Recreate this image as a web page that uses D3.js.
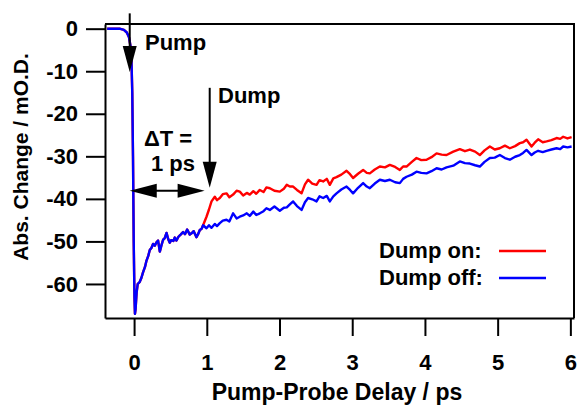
<!DOCTYPE html>
<html>
<head>
<meta charset="utf-8">
<script src="https://cdn.jsdelivr.net/npm/d3@7"></script>
<style>
    body{ margin:0; background:#fff; }
    svg text{ font-family:"Liberation Sans", Arial, Helvetica, sans-serif; font-weight:bold; }
</style>
</head>
<body>
<svg id="chart" width="579" height="406"></svg>
<script>
// shared part of both traces (before the dump pulse)
var timeShared = [-0.37,-0.2,-0.14,-0.1,-0.07,-0.05,-0.035,-0.025,-0.015,-0.005,0.005,0.012,0.02,0.035,0.05,0.078,0.1,0.124,0.15,0.171,0.195,0.216,0.24,0.261,0.285,0.308,0.33,0.354,0.375,0.399,0.42,0.446,0.47,0.491,0.51,0.54,0.56,0.583,0.61,0.64,0.674,0.7,0.73,0.766,0.79,0.82,0.858,0.88,0.904,0.93,0.949];
var valueShared = [0,0,-0.3,-0.9,-2,-4,-8,-15,-30,-50,-63,-67,-66,-62,-60,-59.5,-58.6,-57.2,-56,-54.5,-53.4,-52,-51.5,-50.6,-51,-50.2,-49.8,-52.4,-51,-49.6,-49.3,-48,-49.5,-50.3,-49.7,-49.9,-49.1,-49.8,-48.9,-48.4,-47.8,-48.3,-47.2,-48.4,-48.1,-47.6,-49,-48.3,-47.3,-47,-46.2];

// after the dump pulse
var timeTail = [0.996,1.03,1.065,1.11,1.14,1.179,1.22,1.271,1.31,1.362,1.41,1.454,1.5,1.55,1.591,1.64,1.68,1.729,1.78,1.82,1.867,1.93,2.004,2.06,2.1,2.142,2.187,2.24,2.303,2.35,2.393,2.45,2.509,2.55,2.6,2.65,2.692,2.74,2.784,2.85,2.922,2.97,3.012,3.08,3.15,3.2,3.242,3.31,3.38,3.45,3.517,3.59,3.655,3.7,3.747,3.82,3.884,3.95,4.022,4.09,4.16,4.23,4.297,4.39,4.48,4.55,4.618,4.69,4.755,4.82,4.893,4.96,5.03,5.1,5.168,5.24,5.305,5.35,5.397,5.466,5.51,5.557,5.62,5.673,5.74,5.81,5.86,5.901,5.96,6.017];
var dumpOn = [-44.2,-42.5,-40.6,-39.5,-40.3,-39.8,-38.9,-38.7,-39.6,-39,-38.1,-38.3,-39.2,-38.6,-39,-38.2,-38.8,-37.9,-38.4,-37.3,-37.5,-38.1,-38.3,-37.6,-36.7,-37.1,-37.1,-37.9,-38.7,-36.6,-35.5,-36.4,-36.7,-35.6,-35.9,-35.3,-36.7,-35.2,-34.9,-34.3,-33.4,-34.2,-35.1,-34.1,-33.2,-33.9,-34,-33.1,-32.4,-32.6,-32,-32.5,-33.2,-32.4,-32.4,-31.3,-30.4,-30.9,-30.8,-30.2,-29.3,-29.6,-29.7,-28.9,-28.3,-28.8,-28.4,-28.9,-29.7,-28.6,-27.7,-28.4,-28.1,-27.5,-28.1,-27.6,-26.9,-26.7,-26.1,-27.7,-26.8,-26,-26.7,-26.5,-26.2,-25.7,-25.9,-25.4,-25.8,-25.5];
var dumpOff = [-46.9,-46.2,-46.8,-45.9,-46.4,-45.7,-45.1,-44.9,-45.3,-43.4,-44.6,-44.2,-43.9,-43.4,-44,-43,-43.8,-43.4,-42.9,-42.2,-42.6,-41.8,-42.8,-42.1,-42,-41.3,-40.6,-41.7,-42.6,-40.8,-39.8,-40.1,-40.6,-39.4,-39.8,-39.3,-40.6,-39.4,-38.7,-37.8,-37.1,-37.9,-38.7,-37.4,-36.3,-37.1,-37.5,-36.4,-35.5,-35.8,-35.5,-36.1,-36.3,-35.3,-34.8,-34.3,-33.6,-33.9,-34,-33.5,-32.8,-33.1,-32.6,-32.2,-31.2,-31.6,-31.7,-32.1,-32.4,-31.3,-30.4,-30.3,-29.7,-30.4,-30.8,-30.1,-29.7,-29.2,-28.5,-29.7,-29.1,-28.7,-29,-28.7,-28.4,-28.1,-28.3,-27.7,-27.9,-27.7];

var xTicks = [0,1,2,3,4,5,6];
var yTicks = [0,-10,-20,-30,-40,-50,-60];
var seriesNames = ["Dump on:", "Dump off:"];
var seriesColors = ["#ff0000", "#0000ff"];

var plotL = 105, plotR = 574, plotT = 24, plotB = 318;

var svg = d3.select("#chart");
var x = d3.scaleLinear().domain([-0.4, 6.05]).range([plotL, plotR]);
var y = d3.scaleLinear().domain([1.1, -68]).range([plotT, plotB]);

function pts(ts, vs){
    return ts.map(function(t, i){ return [t, vs[i]]; });
}
var shared = pts(timeShared, valueShared);
var traces = [shared.concat(pts(timeTail, dumpOn)), shared.concat(pts(timeTail, dumpOff))];

var line = d3.line().x(function(d){ return x(d[0]); }).y(function(d){ return y(d[1]); });

// axes
var xAxis = d3.axisBottom(x).tickValues(xTicks).tickFormat(d3.format("d")).tickSize(18).tickSizeOuter(0).tickPadding(18);
var yAxis = d3.axisLeft(y).tickValues(yTicks).tickFormat(function(d){ return d === 0 ? "0" : "-" + Math.abs(d); }).tickSize(19).tickSizeOuter(0).tickPadding(8);

var gx = svg.append("g").attr("transform", "translate(0," + plotB + ")").call(xAxis);
var gy = svg.append("g").attr("transform", "translate(" + plotL + ",0)").call(yAxis);
[gx, gy].forEach(function(g){
    g.selectAll("path,line").style("stroke", "#000").style("stroke-width", 2);
    g.selectAll("text").style("font-size", "22px").style("fill", "#000");
});

// frame top and right
svg.append("path")
    .attr("d", "M" + plotL + "," + plotT + "H" + plotR + "V" + plotB)
    .style("fill", "none").style("stroke", "#000").style("stroke-width", 2);

// traces (red under blue)
svg.selectAll("path.trace").data(traces).enter().append("path")
    .attr("class", "trace")
    .attr("d", line)
    .style("fill", "none")
    .style("stroke", function(d, i){ return seriesColors[i]; })
    .style("stroke-width", 2.4)
    .style("stroke-linejoin", "round");

// arrows
function arrowHead(tipX, tipY, dx, dy, len, half){
    // dx,dy unit direction of the arrow
    var bx = tipX - dx * len, by = tipY - dy * len;
    var px = -dy * half, py = dx * half;
    svg.append("path")
        .attr("d", "M" + tipX + "," + tipY + "L" + (bx + px) + "," + (by + py) + "L" + (bx - px) + "," + (by - py) + "Z")
        .style("fill", "#000");
}
function vArrow(t, v0, v1){
    var xx = x(t), y0 = y(v0), y1 = y(v1);
    svg.append("line").attr("x1", xx).attr("x2", xx).attr("y1", y0).attr("y2", y1 - 20)
        .style("stroke", "#000").style("stroke-width", 2);
    arrowHead(xx, y1, 0, 1, 26, 7);
}
vArrow(-0.06, 3.6, -10.2);
vArrow(1.04, -13.9, -37.4);

var ay = y(-38.1), ax0 = x(-0.06), ax1 = x(0.97);
svg.append("line").attr("x1", ax0 + 20).attr("x2", ax1 - 20).attr("y1", ay).attr("y2", ay)
    .style("stroke", "#000").style("stroke-width", 2);
arrowHead(ax0, ay, -1, 0, 27, 7);
arrowHead(ax1, ay, 1, 0, 27, 7);

// annotation text
function label(txt, xx, yy, anchor){
    svg.append("text").attr("x", xx).attr("y", yy).attr("text-anchor", anchor || "start")
        .style("font-size", "22px").style("fill", "#000").text(txt);
}
label("Pump", 145, 50);
label("Dump", 218, 103);
label("\u0394T =", 168, 146, "middle");
label("1 ps", 173, 171, "middle");

// legend
seriesNames.forEach(function(name, i){
    var yy = 258 + i * 27;
    label(name, 379, yy);
    svg.append("line").attr("x1", 499).attr("x2", 546).attr("y1", yy - 7).attr("y2", yy - 7)
        .style("stroke", seriesColors[i]).style("stroke-width", 2.4);
});

// axis titles
svg.append("text").attr("x", 337).attr("y", 400).attr("text-anchor", "middle")
    .style("font-size", "23px").text("Pump-Probe Delay / ps");
svg.append("text").attr("transform", "translate(28,157) rotate(-90)").attr("text-anchor", "middle")
    .style("font-size", "21px").text("Abs. Change / mO.D.");
</script>
</body>
</html>
